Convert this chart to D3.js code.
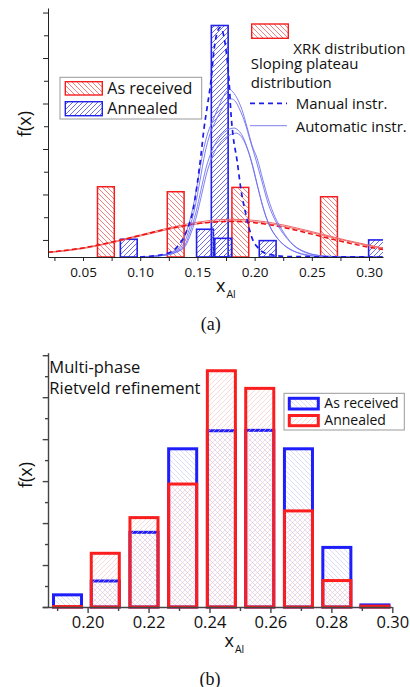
<!DOCTYPE html>
<html>
<head>
<meta charset="utf-8">
<script src="https://cdnjs.cloudflare.com/ajax/libs/d3/7.8.5/d3.min.js"></script>
<style>
	body { margin: 0; background: #fff; }
	svg { display: block; }
	text { font-family: "Open Sans", "Noto Sans", sans-serif; fill: #111; }
</style>
</head>
<body>
<div id="chartDiv"></div>
<script>
;(function() {

	var width = 410;
	var height = 687;

	// ---- panel (a) data ----
	var recvX = [0.070, 0.131, 0.1875, 0.265];
	var recvF = [3.09, 2.87, 3.06, 2.65];
	var annX = [0.090, 0.1566, 0.1695, 0.1725, 0.2114, 0.307];
	var annF = [0.78, 1.22, 10.18, 0.82, 0.72, 0.75];
	var barWidthA = 0.0147;

	// XRK / gaussian fits (red)
	var xrkX = [0.0194, 0.05, 0.08, 0.10, 0.12, 0.14, 0.16, 0.18, 0.20, 0.22, 0.24, 0.26, 0.28, 0.30, 0.3122];
	var xrkF1 = [0.21, 0.40, 0.72, 0.97, 1.22, 1.44, 1.60, 1.66, 1.61, 1.46, 1.24, 0.99, 0.74, 0.52, 0.40];
	var xrkF2 = [0.19, 0.37, 0.68, 0.92, 1.16, 1.37, 1.53, 1.59, 1.55, 1.40, 1.19, 0.95, 0.71, 0.49, 0.38];
	var xrkDash = [0.21, 0.40, 0.71, 0.95, 1.19, 1.39, 1.52, 1.56, 1.51, 1.35, 1.13, 0.88, 0.64, 0.43, 0.33];

	// sloping plateau, manual instr. (dashed blue)
	var manualX = [0.0998, 0.1217, 0.1330, 0.1409, 0.1462, 0.1497, 0.1531, 0.1558, 0.1584, 0.1619, 0.1645, 0.1671, 0.1698, 0.1724, 0.1750, 0.1776, 0.1794, 0.1811, 0.1846, 0.1881, 0.1925, 0.1977, 0.2030, 0.2117, 0.2309, 0.3122];
	var manualF = [0, 0.13, 0.48, 1.19, 2.07, 3.16, 4.48, 5.67, 6.55, 7.78, 9.10, 9.85, 10.09, 9.85, 9.10, 7.78, 6.24, 5.36, 4.26, 2.95, 1.85, 0.84, 0.40, 0.13, 0.02, 0];

	// sloping plateau, automatic instr. (thin blue)
	var auto1X = [0.0998, 0.1173, 0.1278, 0.1348, 0.1409, 0.1462, 0.1505, 0.1549, 0.1593, 0.1636, 0.1680, 0.1724, 0.1759, 0.1781, 0.1811, 0.1855, 0.1899, 0.1934, 0.1977, 0.2021, 0.2073, 0.2117, 0.2178, 0.2240, 0.2336, 0.2423, 0.2528, 0.2747, 0.3122];
	var auto1F = [0, 0.07, 0.22, 0.46, 1.19, 2.20, 3.38, 4.62, 5.49, 6.02, 6.55, 7.03, 7.30, 7.38, 7.25, 6.90, 6.33, 5.71, 4.92, 4.35, 3.38, 2.59, 1.76, 1.19, 0.53, 0.24, 0.09, 0.01, 0];
	var auto2X = [0.0998, 0.1191, 0.1295, 0.1365, 0.1427, 0.1479, 0.1523, 0.1566, 0.1610, 0.1663, 0.1715, 0.1759, 0.1798, 0.1829, 0.1872, 0.1916, 0.1960, 0.2012, 0.2065, 0.2117, 0.2187, 0.2266, 0.2362, 0.2467, 0.2615, 0.2921, 0.3122];
	var auto2F = [0, 0.07, 0.22, 0.46, 1.19, 2.20, 3.38, 4.57, 5.41, 6.02, 6.51, 6.81, 6.95, 6.86, 6.46, 5.89, 5.14, 4.26, 3.30, 2.37, 1.54, 0.92, 0.44, 0.18, 0.04, 0, 0];
	var auto3X = [0.0998, 0.1199, 0.1313, 0.1383, 0.1435, 0.1488, 0.1531, 0.1575, 0.1628, 0.1689, 0.1750, 0.1820, 0.1855, 0.1899, 0.1942, 0.1986, 0.2030, 0.2073, 0.2117, 0.2178, 0.2266, 0.2379, 0.2528, 0.2834, 0.3122];
	var auto3F = [0, 0.07, 0.22, 0.46, 1.10, 1.98, 2.95, 3.91, 4.70, 5.23, 5.54, 5.67, 5.58, 5.27, 4.70, 3.96, 3.03, 2.20, 1.54, 0.97, 0.48, 0.18, 0.03, 0, 0];
	var auto4X = [0.0998, 0.1208, 0.1322, 0.1392, 0.1444, 0.1497, 0.1540, 0.1584, 0.1636, 0.1698, 0.1767, 0.1837, 0.1872, 0.1916, 0.1960, 0.2003, 0.2047, 0.2091, 0.2135, 0.2205, 0.2309, 0.2441, 0.2615, 0.3122];
	var auto4F = [0, 0.07, 0.22, 0.46, 1.05, 1.89, 2.81, 3.74, 4.48, 5.01, 5.32, 5.45, 5.36, 5.01, 4.40, 3.56, 2.68, 1.89, 1.32, 0.79, 0.35, 0.11, 0.02, 0];

	var xTicksA = [0.025, 0.05, 0.075, 0.10, 0.125, 0.15, 0.175, 0.20, 0.225, 0.25, 0.275, 0.30];
	var yTicksA = [0.75, 1.75, 2.75, 3.75, 4.75, 5.75, 6.75, 7.75, 8.75, 9.75, 10.75];

	// ---- panel (b) data ----
	var binX = [0.1934, 0.2058, 0.2185, 0.2312, 0.2439, 0.2565, 0.2692, 0.2818, 0.2943];
	var binRecv = [0.29, 0.62, 1.78, 3.77, 4.20, 4.21, 3.77, 1.42, 0.05];
	var binAnn = [0.01, 1.28, 2.13, 2.93, 5.63, 5.21, 2.29, 0.63, 0.02];
	var barWidthB = 0.0092;

	var xTicksB = [0.19, 0.20, 0.21, 0.22, 0.23, 0.24, 0.25, 0.26, 0.27, 0.28, 0.29, 0.30];
	var yTicksB = [0, 0.5, 1, 1.5, 2, 2.5, 3, 3.5, 4, 4.5, 5, 5.5, 6];

	var red = "#f41e1e";
	var blue = "#2121e8";

	var svg = d3.select("#chartDiv").append("svg")
		.attr("width", width)
		.attr("height", height);

	var defs = svg.append("defs");

	function hatch(id, size, color, sw, back) {
		var s = size;
		var d = back
			? "M0,0 L" + s + "," + s + " M-1," + (s - 1) + " L1," + (s + 1) + " M" + (s - 1) + ",-1 L" + (s + 1) + ",1"
			: "M0," + s + " L" + s + ",0 M-1,1 L1,-1 M" + (s - 1) + "," + (s + 1) + " L" + (s + 1) + "," + (s - 1);
		defs.append("pattern")
			.attr("id", id)
			.attr("patternUnits", "userSpaceOnUse")
			.attr("width", s)
			.attr("height", s)
			.append("path")
			.attr("d", d)
			.attr("stroke", color)
			.attr("stroke-width", sw)
			.attr("fill", "none");
	}
	hatch("hRedA", 5, "#f27070", 0.9, true);
	hatch("hBlueA", 5, "#5c5ce8", 0.9, false);
	hatch("hBlueB", 5, "#c4c4f6", 0.6, true);
	hatch("hRedB", 5, "#f6c0c0", 0.6, false);

	defs.append("clipPath").attr("id", "clipA")
		.append("rect").attr("x", 48).attr("y", 0).attr("width", 335).attr("height", 257);

	// ================= panel (a) =================
	var xA = d3.scaleLinear().domain([0.0194, 0.3122]).range([48, 383]);
	var yA = d3.scaleLinear().domain([0, 10.95]).range([257, 8]);

	var plotA = svg.append("g").attr("clip-path", "url(#clipA)");

	function bars(g, xs, fs, w, x, y, fill, stroke, sw) {
		g.selectAll(null).data(xs).enter().append("rect")
			.attr("x", function(d) { return x(d - w / 2); })
			.attr("y", function(d, i) { return y(fs[i]); })
			.attr("width", function(d) { return x(d + w / 2) - x(d - w / 2); })
			.attr("height", function(d, i) { return y.range()[0] - y(fs[i]); })
			.attr("fill", fill)
			.attr("stroke", stroke)
			.attr("stroke-width", sw);
	}

	bars(plotA, recvX, recvF, barWidthA, xA, yA, "url(#hRedA)", red, 1.5);
	bars(plotA, annX, annF, barWidthA, xA, yA, "url(#hBlueA)", blue, 1.6);

	function curve(g, xs, fs, color, sw, dash) {
		var line = d3.line()
			.x(function(d) { return xA(d); })
			.y(function(d, i) { return yA(fs[i]); })
			.curve(d3.curveMonotoneX);
		g.append("path")
			.attr("d", line(xs))
			.attr("fill", "none")
			.attr("stroke", color)
			.attr("stroke-width", sw)
			.attr("stroke-dasharray", dash || null);
	}

	curve(plotA, xrkX, xrkF1, "#f06868", 1);
	curve(plotA, xrkX, xrkF2, "#f06868", 1);
	curve(plotA, xrkX, xrkDash, "#ee1010", 1.5, "5,3");
	curve(plotA, auto1X, auto1F, "#7070f0", 0.9);
	curve(plotA, auto2X, auto2F, "#7070f0", 0.9);
	curve(plotA, auto3X, auto3F, "#7070f0", 0.9);
	curve(plotA, auto4X, auto4F, "#7070f0", 0.9);
	curve(plotA, manualX, manualF, "#1c1ce8", 1.7, "5,4");

	// axes (a)
	var xAxisA = d3.axisBottom(xA)
		.tickValues(xTicksA)
		.tickSize(4)
		.tickSizeOuter(0)
		.tickFormat(function(d) { return Math.round(d * 1000) % 50 === 0 ? d3.format(".2f")(d) : ""; });
	var gxA = svg.append("g")
		.attr("transform", "translate(0,257)")
		.call(xAxisA);
	gxA.selectAll("text").attr("y", 20).attr("dy", null)
		.style("font-size", "13.5px").style("font-family", '"Open Sans", sans-serif').attr("fill", "#111");

	var yAxisA = d3.axisLeft(yA)
		.tickValues(yTicksA)
		.tickSizeOuter(0)
		.tickFormat("");
	svg.append("g")
		.attr("transform", "translate(48,0)")
		.call(yAxisA)
		.selectAll(".tick line")
		.attr("x2", function(d, i) { return i % 2 === 0 ? -5 : -4; });

	svg.selectAll(".domain, .tick line").attr("stroke", "#222").attr("stroke-width", 1);

	// axis titles (a)
	svg.append("text")
		.attr("transform", "translate(31,124) rotate(-90)")
		.attr("text-anchor", "middle")
		.style("font-size", "18px")
		.text("f(x)");
	var xtA = svg.append("text").attr("x", 216).attr("y", 291.5).style("font-size", "18px");
	xtA.append("tspan").text("x");
	xtA.append("tspan").attr("dy", 6.5).attr("dx", 1).style("font-size", "10.5px").text("Al");

	svg.append("text")
		.attr("x", 210.7).attr("y", 330)
		.attr("text-anchor", "middle")
		.style("font-family", '"Liberation Serif", serif')
		.style("font-size", "18px")
		.text("(a)");

	// legend (a), left box
	var legA = svg.append("g");
	legA.append("rect").attr("x", 60).attr("y", 77.3).attr("width", 141.7).attr("height", 41.7)
		.attr("fill", "#fff").attr("stroke", "#999").attr("stroke-width", 1);
	legA.append("rect").attr("x", 65.3).attr("y", 81.7).attr("width", 37).attr("height", 13.3)
		.attr("fill", "url(#hRedA)").attr("stroke", red).attr("stroke-width", 1.4);
	legA.append("rect").attr("x", 65.3).attr("y", 101.7).attr("width", 37).attr("height", 14)
		.attr("fill", "url(#hBlueA)").attr("stroke", blue).attr("stroke-width", 1.4);
	legA.append("text").attr("x", 107.3).attr("y", 93.5).style("font-size", "16px").text("As received");
	legA.append("text").attr("x", 107.3).attr("y", 114.3).style("font-size", "16px").text("Annealed");

	// legend (a), right side
	var legA2 = svg.append("g");
	legA2.append("rect").attr("x", 251.7).attr("y", 24).attr("width", 36.6).attr("height", 14.3)
		.attr("fill", "url(#hRedA)").attr("stroke", red).attr("stroke-width", 1.4);
	legA2.append("text").attr("x", 293.3).attr("y", 54).style("font-size", "15px").text("XRK distribution");
	legA2.append("text").attr("x", 250.7).attr("y", 69).style("font-size", "15px").text("Sloping plateau");
	legA2.append("text").attr("x", 250.7).attr("y", 88.3).style("font-size", "15px").text("distribution");
	legA2.append("line").attr("x1", 250).attr("x2", 287).attr("y1", 103.3).attr("y2", 103.3)
		.attr("stroke", "#1c1ce8").attr("stroke-width", 1.7).attr("stroke-dasharray", "5,4");
	legA2.append("text").attr("x", 295.7).attr("y", 109.3).style("font-size", "15px").text("Manual instr.");
	legA2.append("line").attr("x1", 250).attr("x2", 287).attr("y1", 125.7).attr("y2", 125.7)
		.attr("stroke", "#8080f0").attr("stroke-width", 1);
	legA2.append("text").attr("x", 295.7).attr("y", 131.7).style("font-size", "15px").text("Automatic instr.");

	// ================= panel (b) =================
	var xB = d3.scaleLinear().domain([0.187, 0.30]).range([48, 392.3]);
	var yB = d3.scaleLinear().domain([0, 6.06]).range([607, 352.7]);

	var plotB = svg.append("g");
	bars(plotB, binX, binRecv, barWidthB, xB, yB, "url(#hBlueB)", "#1e1efa", 3);
	bars(plotB, binX, binAnn, barWidthB, xB, yB, "url(#hRedB)", "#fa1e1e", 3);

	var xAxisB = d3.axisBottom(xB)
		.tickValues(xTicksB)
		.tickSizeOuter(0)
		.tickFormat(function(d) { return Math.round(d * 100) % 2 === 0 ? d3.format(".2f")(d) : ""; });
	var gxB = svg.append("g")
		.attr("transform", "translate(0,607)")
		.call(xAxisB);
	gxB.selectAll(".tick line").attr("y2", function(d) { return Math.round(d * 100) % 2 === 0 ? 6 : 4; });
	gxB.selectAll("text").attr("y", 21).attr("dy", null)
		.style("font-size", "16.5px").style("font-family", '"Open Sans", sans-serif').attr("fill", "#111");
	gxB.select(".domain").attr("d", "M42.7,0.5H392.3");

	var yAxisB = d3.axisLeft(yB)
		.tickValues(yTicksB)
		.tickSizeOuter(0)
		.tickFormat("");
	var gyB = svg.append("g")
		.attr("transform", "translate(48,0)")
		.call(yAxisB);
	gyB.selectAll(".tick line").attr("x2", function(d) { return d % 1 === 0 ? -5.3 : -3; });

	gxB.selectAll(".domain, .tick line").attr("stroke", "#444").attr("stroke-width", 1.4);
	gyB.selectAll(".domain, .tick line").attr("stroke", "#444").attr("stroke-width", 1.4);

	svg.append("text")
		.attr("transform", "translate(32,475) rotate(-90)")
		.attr("text-anchor", "middle")
		.style("font-size", "18px")
		.text("f(x)");
	var xtB = svg.append("text").attr("x", 224.5).attr("y", 646.7).style("font-size", "18px");
	xtB.append("tspan").text("x");
	xtB.append("tspan").attr("dy", 6.5).attr("dx", 1).style("font-size", "10.5px").text("Al");

	svg.append("text")
		.attr("x", 210).attr("y", 685)
		.attr("text-anchor", "middle")
		.style("font-family", '"Liberation Serif", serif')
		.style("font-size", "18px")
		.text("(b)");

	svg.append("text").attr("x", 49.3).attr("y", 373.3).style("font-size", "16.5px").text("Multi-phase");
	svg.append("text").attr("x", 49.3).attr("y", 394.3).style("font-size", "16.5px").text("Rietveld refinement");

	// legend (b)
	var legB = svg.append("g");
	legB.append("rect").attr("x", 284).attr("y", 393.3).attr("width", 120.3).attr("height", 36.7)
		.attr("fill", "#fff").attr("stroke", "#999").attr("stroke-width", 1);
	legB.append("rect").attr("x", 289.3).attr("y", 398.3).attr("width", 29).attr("height", 10.7)
		.attr("fill", "url(#hBlueB)").attr("stroke", "#1e1efa").attr("stroke-width", 3);
	legB.append("rect").attr("x", 289.3).attr("y", 415.5).attr("width", 29).attr("height", 10.2)
		.attr("fill", "url(#hRedB)").attr("stroke", "#fa1e1e").attr("stroke-width", 3);
	legB.append("text").attr("x", 324.3).attr("y", 408).style("font-size", "14px").text("As received");
	legB.append("text").attr("x", 324.3).attr("y", 425.3).style("font-size", "14px").text("Annealed");

})();
</script>
</body>
</html>
